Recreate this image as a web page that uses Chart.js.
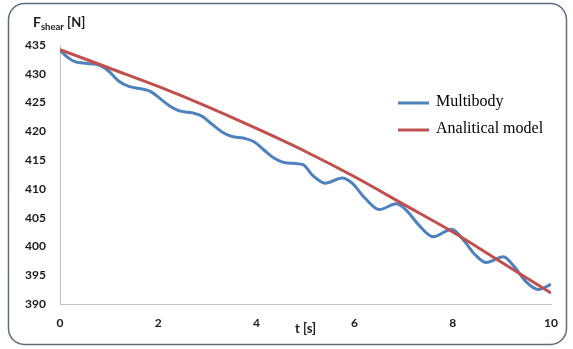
<!DOCTYPE html>
<html>
<head>
<meta charset="utf-8">
<script src="https://cdn.jsdelivr.net/npm/chart.js@4"></script>
<style>
    body { margin: 0; background: #fff; }
    #wrap { width: 573px; height: 349px; }
</style>
</head>
<body>
<div id="wrap"><canvas id="shearChart" width="573" height="349"></canvas></div>
<script>
// data
var tBlue = [0, 0.15, 0.3, 0.55, 0.8, 1.0, 1.2, 1.4, 1.65, 1.85, 2.05, 2.25, 2.45, 2.7, 2.9, 3.1, 3.3, 3.5, 3.75, 3.95,
    4.15, 4.35, 4.55, 4.8, 4.95, 5.15, 5.4, 5.75, 5.95, 6.2, 6.5, 6.85, 7.05, 7.3, 7.6, 7.98, 8.2, 8.45, 8.68, 9.03,
    9.25, 9.5, 9.74, 10];
var fBlue = [434.1, 432.9, 432.1, 431.8, 431.5, 430.4, 428.7, 427.8, 427.4, 426.9, 425.6, 424.3, 423.5, 423.2, 422.6, 421.2, 419.9, 419.1, 418.8, 418.2,
    416.8, 415.4, 414.6, 414.4, 414.2, 412.3, 411.0, 411.9, 411.0, 408.5, 406.4, 407.4, 406.3, 403.8, 401.7, 403.0, 401.3, 398.6, 397.2, 398.2,
    396.5, 393.8, 392.5, 393.4];
var tRed = [0, 1, 2, 3, 4, 5, 6, 7, 8, 9, 10];
var fRed = [434.2, 431.0, 427.8, 424.3, 420.5, 416.5, 412.1, 407.3, 402.5, 397.2, 391.9];
var seriesNames = ["Multibody", "Analitical model"];
var xTicks = [0, 2, 4, 6, 8, 10];
var yTicks = [390, 395, 400, 405, 410, 415, 420, 425, 430, 435];

var fontFamily = "Lato";
var tickColor = "#1a1a1a";

function toPoints(xs, ys) {
    return xs.map(function (x, i) {
        return { x: x, y: ys[i] };
    });
}

// rounded frame behind the chart
var framePlugin = {
    id: "frame",
    beforeDraw: function (chart) {
        let ctx = chart.ctx;
        ctx.save();
        ctx.fillStyle = "#fff";
        ctx.fillRect(0, 0, chart.width, chart.height);
        ctx.beginPath();
        ctx.roundRect(8.5, 3.5, 558, 341, 16);
        ctx.strokeStyle = "#5d6b7a";
        ctx.lineWidth = 1.5;
        ctx.stroke();
        ctx.restore();
    },
};

// y title with subscript + legend on the right
var textPlugin = {
    id: "texts",
    afterDraw: function (chart) {
        let ctx = chart.ctx;
        ctx.save();
        ctx.fillStyle = tickColor;
        ctx.textBaseline = "alphabetic";
        ctx.textAlign = "left";
        ctx.font = "bold 14px " + fontFamily;
        ctx.fillText("F", 33, 27);
        let x = 33 + ctx.measureText("F").width;
        ctx.font = "bold 9.5px " + fontFamily;
        ctx.fillText("shear", x, 30);
        x += ctx.measureText("shear").width;
        ctx.font = "bold 13px " + fontFamily;
        ctx.fillText(" [N]", x, 27);

        let rows = [103, 130];
        chart.data.datasets.forEach(function (ds, i) {
            ctx.beginPath();
            ctx.moveTo(398, rows[i]);
            ctx.lineTo(429, rows[i]);
            ctx.strokeStyle = ds.borderColor;
            ctx.lineWidth = 3;
            ctx.stroke();
            ctx.fillStyle = "#000";
            ctx.font = "16px 'Liberation Serif'";
            ctx.textBaseline = "middle";
            ctx.fillText(ds.label, 436, rows[i] - 1);
        });
        ctx.restore();
    },
};

let config_line = {
    type: "line",
    data: {
        datasets: [
            {
                label: seriesNames[0],
                data: toPoints(tBlue, fBlue),
                borderColor: "#4f81bd",
                borderWidth: 3,
                pointRadius: 0,
                cubicInterpolationMode: "monotone",
                order: 1,
            },
            {
                label: seriesNames[1],
                data: toPoints(tRed, fRed),
                borderColor: "#c0504d",
                borderWidth: 3,
                pointRadius: 0,
                cubicInterpolationMode: "monotone",
                order: 0,
            },
        ],
    },
    options: {
        responsive: false,
        animation: false,
        layout: {
            padding: { left: 0, right: 22, top: 45, bottom: 0 },
        },
        scales: {
            x: {
                type: "linear",
                min: 0,
                max: 10,
                afterBuildTicks: function (scale) {
                    scale.ticks = xTicks.map(function (v) { return { value: v }; });
                },
                afterFit: function (scale) {
                    scale.height = 45;
                },
                grid: { display: false, drawTicks: false },
                border: { display: true, color: "#c4c4c4", width: 1 },
                ticks: {
                    padding: 12,
                    maxRotation: 0,
                    color: tickColor,
                    font: { family: fontFamily, size: 12, weight: "bold" },
                },
                title: {
                    display: true,
                    text: "t [s]",
                    color: tickColor,
                    padding: { top: 0, bottom: 12 },
                    font: { family: fontFamily, size: 13, weight: "bold" },
                },
            },
            y: {
                min: 390,
                max: 435,
                afterBuildTicks: function (scale) {
                    scale.ticks = yTicks.map(function (v) { return { value: v }; });
                },
                afterFit: function (scale) {
                    scale.width = 60;
                },
                grid: { display: false, drawTicks: false },
                border: { display: true, color: "#c4c4c4", width: 1 },
                ticks: {
                    padding: 14,
                    color: tickColor,
                    font: { family: fontFamily, size: 12, weight: "bold" },
                },
            },
        },
        plugins: {
            legend: { display: false },
            tooltip: { enabled: false },
        },
    },
    plugins: [framePlugin, textPlugin],
};

var shearChart = new Chart("shearChart", config_line);
</script>
</body>
</html>
